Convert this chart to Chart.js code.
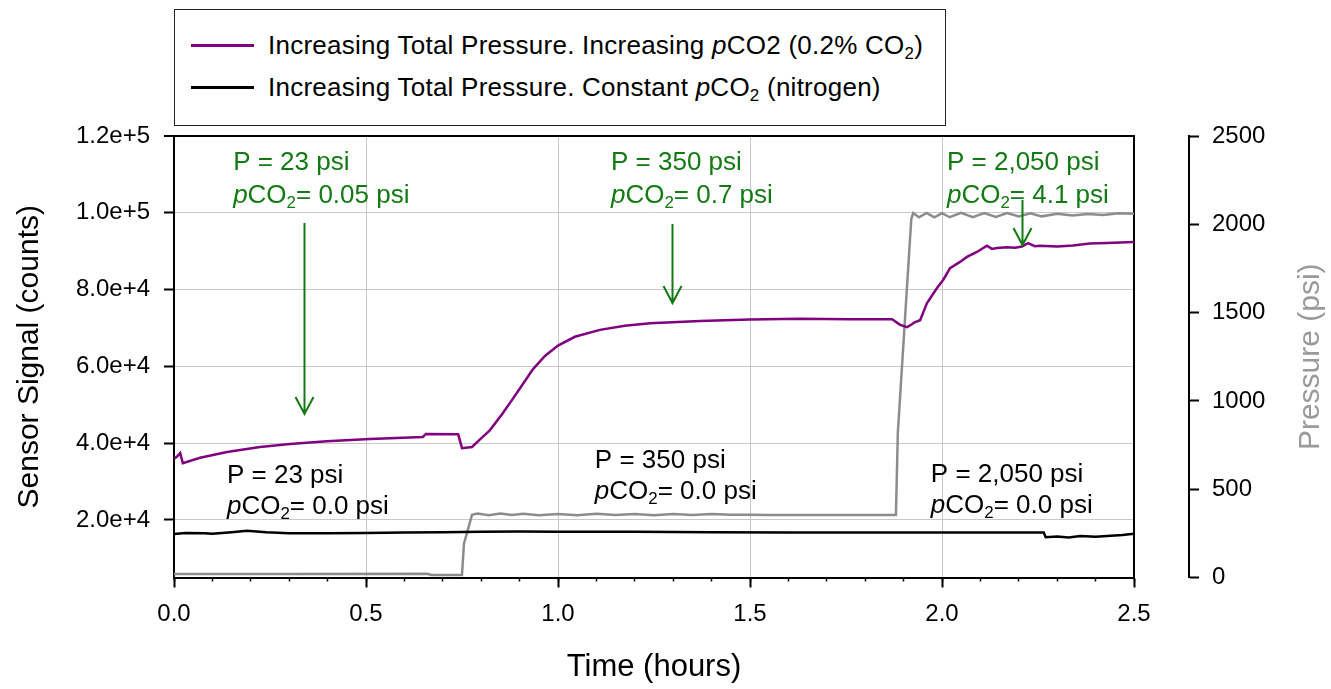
<!DOCTYPE html>
<html><head><meta charset="utf-8">
<script src="https://cdn.jsdelivr.net/npm/chart.js@4/dist/chart.umd.min.js"></script>
<style>
html,body{margin:0;padding:0;background:#fff;}
#wrap{position:relative;width:1331px;height:689px;}
#legend{position:absolute;left:174px;top:9px;width:772px;height:117px;border:1.5px solid #222;box-sizing:border-box;font-family:"Liberation Sans",Arial,sans-serif;font-size:26px;letter-spacing:0.25px;color:#000;background:#fff;}
.sw{position:absolute;left:16px;width:63px;height:3px;}
.tx{position:absolute;left:93px;white-space:nowrap;line-height:1;}
.tx sub{font-size:0.65em;vertical-align:-0.3em;line-height:0;}
</style>
</head><body>
<div id="wrap">
<canvas id="c" width="1331" height="689"></canvas>
<div id="legend">
  <div class="sw" id="sw0" style="top:34px;"></div>
  <div class="tx" style="top:22px;">Increasing Total Pressure. Increasing <i>p</i>CO2 (0.2% CO<sub>2</sub>)</div>
  <div class="sw" id="sw1" style="top:76px;"></div>
  <div class="tx" style="top:64px;">Increasing Total Pressure. Constant <i>p</i>CO<sub>2</sub> (nitrogen)</div>
</div>
</div>
<script>
// ---------- DATA ----------
// Purple: increasing pCO2 (0.2% CO2), sensor counts
const CO2_TIME = [0.000,0.008,0.016,0.023,0.068,0.138,0.224,0.302,0.398,0.510,0.648,0.656,0.740,0.750,0.776,0.797,0.823,0.857,0.880,0.906,0.935,0.966,1.000,1.044,1.109,1.174,1.240,1.370,1.500,1.630,1.760,1.870,1.891,1.909,1.930,1.943,1.961,1.987,2.003,2.021,2.047,2.065,2.091,2.117,2.130,2.143,2.169,2.190,2.208,2.224,2.242,2.255,2.300,2.341,2.385,2.430,2.500];
const CO2_COUNTS = [35900,36500,37400,34800,36200,37700,39000,39800,40500,41100,41600,42400,42300,38700,39000,41000,43400,47900,51200,55000,59300,62700,65400,67700,69500,70600,71200,71800,72200,72400,72300,72300,70800,70200,71500,72000,76500,80400,82500,85600,87200,88500,89800,91400,90600,90800,91000,90900,91200,92100,91300,91400,91200,91500,92000,92100,92400];

// Black: constant pCO2 (nitrogen), sensor counts
const N2_TIME = [0.00,0.03,0.08,0.10,0.15,0.19,0.24,0.30,0.40,0.50,0.60,0.70,0.80,0.90,1.00,1.20,1.40,1.60,1.80,2.00,2.20,2.265,2.27,2.30,2.33,2.36,2.40,2.44,2.47,2.50];
const N2_COUNTS = [16300,16600,16500,16400,16800,17200,16800,16500,16500,16600,16700,16800,16900,17000,16900,16900,16800,16700,16700,16700,16700,16700,15500,15700,15400,15800,15600,15900,16100,16400];

// Grey: total pressure (psi), right axis
const P_TIME = [0.00,0.30,0.66,0.67,0.75,0.755,0.776,0.79,0.82,0.85,0.88,0.91,0.95,1.00,1.05,1.10,1.15,1.20,1.25,1.30,1.35,1.40,1.45,1.50,1.55,1.60,1.70,1.80,1.88,1.885,1.920,1.925,1.94,1.96,1.98,2.00,2.02,2.05,2.08,2.11,2.14,2.17,2.20,2.23,2.26,2.30,2.34,2.38,2.42,2.46,2.50];
const P_PSI = [20,20,21,14,14,190,355,362,352,362,354,361,352,360,353,361,354,360,353,360,354,359,356,356,354,354,354,354,354,820,2030,2064,2040,2065,2040,2063,2040,2065,2041,2064,2042,2063,2044,2062,2045,2060,2050,2058,2052,2062,2060];

// Tick values
const X_TICKS = [0.0,0.5,1.0,1.5,2.0,2.5];
const Y_TICKS = [20000,40000,60000,80000,100000,120000];
const P_TICKS = [0,500,1000,1500,2000,2500];

// Annotations (anchored in data units: time, counts)
const ANN_T = [0.154,1.138,2.013,0.138,1.096,1.971];
const ANN_V = [112980,112980,112980,31440,35350,31700];
const ANN_P = ['P = 23 psi','P = 350 psi','P = 2,050 psi','P = 23 psi','P = 350 psi','P = 2,050 psi'];
const ANN_PCO2 = ['= 0.05 psi','= 0.7 psi','= 4.1 psi','= 0.0 psi','= 0.0 psi','= 0.0 psi'];
const ANN_GREEN = [true,true,true,false,false,false];

// Arrows (time, from counts, to counts)
const ARROW_T = [0.339,1.297,2.208];
const ARROW_FROM = [97350,97100,103300];
const ARROW_TO = [47600,76500,91600];

// ---------- STYLE ----------
const FONT = '"Liberation Sans", Arial, sans-serif';
const PURPLE = '#800080', BLACK = '#000000', GREY = '#8c8c8c', GREEN = '#127a12', GRID = '#c8c8c8';
document.getElementById('sw0').style.background = PURPLE;
document.getElementById('sw1').style.background = BLACK;

const pts = (ts, vs) => ts.map((t, i) => ({x: t, y: vs[i]}));

function drawRich(ctx, x, y, segs, size, color) {
  ctx.fillStyle = color;
  ctx.textBaseline = 'middle';
  ctx.textAlign = 'left';
  let cx = x;
  for (const [txt, st] of segs) {
    let fs = size, dy = 0, style = '';
    if (st === 'i') style = 'italic ';
    if (st === 's') { fs = size * 0.65; dy = size * 0.28; }
    ctx.font = style + fs + 'px ' + FONT;
    ctx.fillText(txt, cx, y + dy);
    cx += ctx.measureText(txt).width;
  }
}

const annotPlugin = {
  id: 'annot',
  afterDatasetsDraw(chart) {
    const ctx = chart.ctx, xs = chart.scales.x, ys = chart.scales.y;
    ctx.save();
    for (let i = 0; i < ANN_T.length; i++) {
      const px = xs.getPixelForValue(ANN_T[i]);
      const py = ys.getPixelForValue(ANN_V[i]);
      const col = ANN_GREEN[i] ? GREEN : BLACK;
      const gap = ANN_GREEN[i] ? 33 : 31;
      drawRich(ctx, px, py, [[ANN_P[i], '']], 26, col);
      drawRich(ctx, px, py + gap, [['p','i'],['CO',''],['2','s'],[ANN_PCO2[i],'']], 26, col);
    }
    ctx.strokeStyle = GREEN;
    ctx.lineWidth = 2;
    for (let i = 0; i < ARROW_T.length; i++) {
      const px = Math.round(xs.getPixelForValue(ARROW_T[i])) + 0.5;
      const y1 = ys.getPixelForValue(ARROW_FROM[i]);
      const y2 = ys.getPixelForValue(ARROW_TO[i]);
      ctx.beginPath();
      ctx.moveTo(px, y1); ctx.lineTo(px, y2);
      ctx.moveTo(px - 9, y2 - 17); ctx.lineTo(px, y2); ctx.lineTo(px + 9, y2 - 17);
      ctx.stroke();
    }
    // right axis title (reads bottom-to-top)
    const yp = chart.scales.yP;
    ctx.translate(yp.right - 20, (chart.chartArea.top + chart.chartArea.bottom) / 2);
    ctx.rotate(-Math.PI / 2);
    ctx.font = '30px ' + FONT;
    ctx.fillStyle = '#9a9a9a';
    ctx.textAlign = 'center';
    ctx.textBaseline = 'middle';
    ctx.fillText('Pressure (psi)', 0, 0);
    ctx.restore();
  }
};

const tickFont = {family: FONT, size: 24};

new Chart(document.getElementById('c'), {
  type: 'line',
  data: {
    datasets: [
      {label: 'Increasing Total Pressure. Increasing pCO2 (0.2% CO2)', data: pts(CO2_TIME, CO2_COUNTS), xAxisID: 'x', yAxisID: 'y', borderColor: PURPLE, borderWidth: 2.5, pointRadius: 0, tension: 0, order: 0},
      {label: 'Increasing Total Pressure. Constant pCO2 (nitrogen)', data: pts(N2_TIME, N2_COUNTS), xAxisID: 'x', yAxisID: 'y', borderColor: BLACK, borderWidth: 2.5, pointRadius: 0, tension: 0, order: 1},
      {label: 'Pressure', data: pts(P_TIME, P_PSI), xAxisID: 'x', yAxisID: 'yP', borderColor: GREY, borderWidth: 2.5, pointRadius: 0, tension: 0, order: 2}
    ]
  },
  options: {
    responsive: false,
    animation: false,
    events: [],
    layout: {padding: {top: 136, left: 0, right: 0, bottom: 0}},
    plugins: {legend: {display: false}, tooltip: {enabled: false}},
    scales: {
      xMinor: {
        type: 'linear', position: 'bottom', weight: 0, min: 0, max: 2.5,
        ticks: {stepSize: 0.1, display: false, autoSkip: false},
        grid: {drawOnChartArea: false, tickLength: 4, tickColor: '#000', tickWidth: 1.5},
        border: {display: false},
        afterFit: s => { s.height = 0; }
      },
      x: {
        type: 'linear', position: 'bottom', weight: 1, min: 0, max: 2.5,
        afterBuildTicks: s => { s.ticks = X_TICKS.map(v => ({value: v})); },
        ticks: {callback: v => Number(v).toFixed(1), font: tickFont, color: '#000', padding: 12, maxRotation: 0, autoSkip: false},
        grid: {color: c => (c.tick && (c.tick.value === 0 || c.tick.value === 2.5)) ? 'rgba(0,0,0,0)' : GRID, lineWidth: 1, tickColor: '#000', tickLength: 10, tickWidth: 2},
        border: {color: '#000', width: 2},
        title: {display: true, text: 'Time (hours)', font: {family: FONT, size: 31}, color: '#000', padding: {top: 0, bottom: 3}},
        afterFit: s => { s.height = 111.5; }
      },
      y: {
        type: 'linear', position: 'left', min: 5000, max: 120000,
        afterBuildTicks: s => { s.ticks = Y_TICKS.map(v => ({value: v})); },
        ticks: {callback: v => Number(v).toExponential(1), font: tickFont, color: '#000', padding: 14},
        grid: {color: c => (c.tick && c.tick.value === 120000) ? '#000' : GRID, lineWidth: c => (c.tick && c.tick.value === 120000) ? 2 : 1, tickColor: '#000', tickLength: 10, tickWidth: 2},
        border: {color: '#000', width: 2},
        title: {display: true, text: 'Sensor Signal (counts)', font: {family: FONT, size: 30}, color: '#000', padding: {top: 12, bottom: 0}},
        afterFit: s => { s.width = 174; }
      },
      ySpacer: {
        type: 'linear', position: 'right', weight: 0, display: true,
        ticks: {display: false},
        grid: {drawOnChartArea: false, drawTicks: false},
        border: {color: '#000', width: 2},
        afterFit: s => { s.width = 55; }
      },
      yP: {
        type: 'linear', position: 'right', weight: 1, min: 0, max: 2500,
        afterBuildTicks: s => { s.ticks = P_TICKS.map(v => ({value: v})); },
        ticks: {callback: v => String(v), font: tickFont, color: '#000', padding: 13},
        grid: {drawOnChartArea: false, tickColor: '#000', tickLength: 10, tickWidth: 2},
        border: {color: '#000', width: 2},
        afterFit: s => { s.width = 142; }
      }
    }
  },
  plugins: [annotPlugin]
});
</script>
</body></html>
